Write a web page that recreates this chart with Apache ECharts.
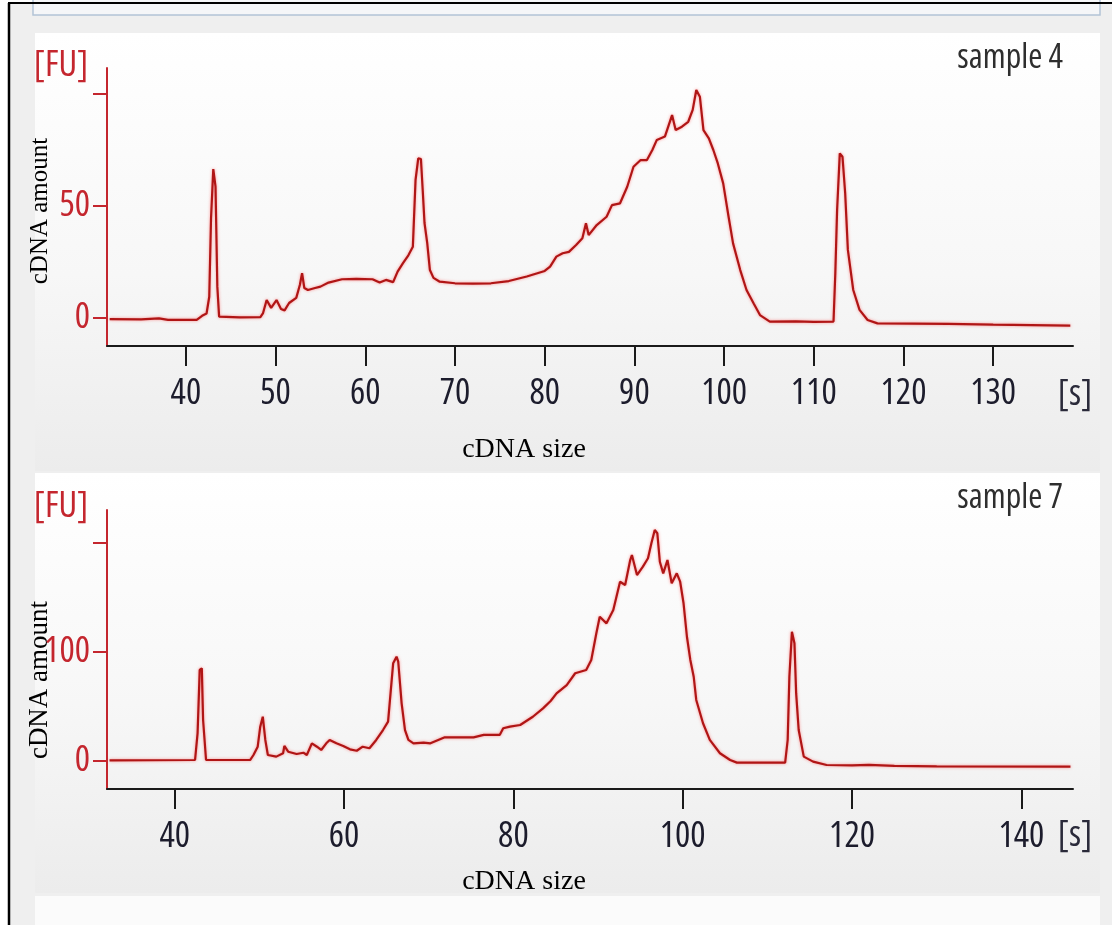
<!DOCTYPE html>
<html>
<head>
<meta charset="utf-8">
<script src="https://cdn.jsdelivr.net/npm/echarts@6/dist/echarts.min.js"></script>
<style>
html,body{margin:0;padding:0;background:#fff;}
#chart{width:1112px;height:925px;}
</style>
</head>
<body>
<div id="chart"></div>
<script>
// ---- data (migration time [s] vs fluorescence [FU]) ----
const sample4Time = [31.5,35,37,38,41.2,41.8,42.3,42.6,42.8,43.05,43.3,43.5,43.7,46,48.3,48.6,49.0,49.5,50.1,50.6,51.0,51.5,52.3,52.7,52.95,53.2,53.6,54.4,55.0,55.9,57.4,59,60.8,61.6,62.3,63.1,63.6,64.2,64.8,65.3,65.6,65.9,66.2,66.4,66.6,66.9,67.2,67.6,68.3,70,72,74,76,78,80,80.6,81.3,82.0,82.7,83.5,84.2,84.6,84.9,85.8,86.9,87.5,88.4,89.2,89.9,90.7,91.4,92.0,92.5,93.4,94.2,94.6,95.3,96.0,96.5,96.9,97.3,97.7,98.3,98.8,99.3,99.9,100.5,101.0,101.8,102.5,103.3,104.0,105.1,108,110,112.2,112.4,112.6,112.9,113.2,113.5,113.8,114.4,115.1,116,117.1,125,130,138.6];
const sample4FU   = [-0.5,-0.6,-0.2,-0.8,-0.8,1.0,2.0,9.5,44.6,66.5,58.6,14,0.6,0.3,0.4,2.2,8,4.5,8,4,3.4,6.7,9,14.7,20,13.4,12.5,13.4,14,15.8,17.3,17.5,17.3,15.8,17,16,20.7,24.5,28,31.8,61.6,71.3,71,57,42.4,33.5,21.4,17.9,16.2,15.5,15.3,15.5,16.5,18.5,21,22.9,27.4,28.9,29.5,32.6,35.6,42.3,37,41.5,45.2,50.4,51.2,58.6,67.5,70.5,70.5,75,79.5,81,90.6,83.9,85.4,87.6,92.9,101.8,98.8,83.9,80.2,75,69,60.1,45.2,33.3,21.4,12.5,6.5,1.3,-1.6,-1.5,-1.7,-1.6,20,48.2,73.5,72,55.7,30.4,12.5,3.6,-0.9,-2.4,-2.6,-3.0,-3.4];

const sample7Time = [32.3,42.4,42.7,42.95,43.2,43.35,43.7,48.9,49.3,49.8,50.1,50.4,50.7,51.0,52.0,52.8,52.95,53.4,54.4,55.2,55.6,56.2,56.8,57.3,57.9,58.3,59.1,59.9,60.7,61.5,62.2,63.0,63.8,64.6,65.2,65.8,66.2,66.4,66.8,67.2,67.6,68.2,69.4,70.2,71.9,75.3,76.5,78.4,78.8,79.6,80.8,82.3,83.5,84.4,85.1,86.3,87.3,88.6,89.2,89.8,90.2,91.0,91.8,92.6,93.2,93.8,94.0,94.6,95.3,95.9,96.3,96.7,97.0,97.3,97.7,98.2,98.7,99.3,99.7,100.1,100.5,100.9,101.3,101.6,102.4,103.2,104.4,105.6,106.4,112.1,112.4,112.6,112.9,113.2,113.4,113.7,114.3,115.4,117.0,120,122,125,130,145.8];
const sample7FU   = [0.5,0.9,25.6,83.5,85,37.6,0.9,0.9,5.5,13.1,31.5,40.6,19.3,5.5,4,7.1,13.8,8.5,6.4,7.6,5.5,16.2,13.1,10.1,16.2,19.3,16.2,13.8,10.7,9.4,13.1,11.7,19.3,28.4,36.1,89.6,95.7,91.1,52.9,28.4,19.3,16.2,16.8,16.2,21.7,21.7,24,24,30,31.5,33,40.6,48.3,55,62,69.7,80.5,83.5,92.7,117.2,132.4,126.3,138.5,164.5,161.5,184.4,189,170.6,178.3,186,199.7,211.9,209,182.8,172.2,184.4,163,172.2,164.5,144.7,114,92.7,77.3,56,34.6,19.3,7.1,0.9,-1.5,-1.5,19.3,77.3,118.5,108,62,28.4,4,-0.6,-3.7,-4.0,-3.5,-4.5,-5,-5.2];

const top_xTicks = [40,50,60,70,80,90,100,110,120,130];
const top_yLabels = [0,50];
const top_yTicks = [0,50,100];
const bot_xTicks = [40,60,80,100,120,140];
const bot_yLabels = [0,100];
const bot_yTicks = [0,100,200];

const sampleNames = ['sample 4','sample 7'];
const yTitle = 'cDNA amount';
const xTitle = 'cDNA size';

// ---- pick a condensed sans face if one is installed ----
function pickNarrow(){
  const c = document.createElement('canvas').getContext('2d');
  const fams = ["'Open Sans'","'Noto Sans'","'DejaVu Sans'","Roboto","'Liberation Sans'","Lato","Inter"];
  const stretches = ['condensed','semi-condensed'];
  for (const f of fams){
    c.font = 'normal normal 100px ' + f;
    const w0 = c.measureText('0123456789 sample[FU]').width;
    for (const s of stretches){
      c.font = 'normal normal 100px ' + f;
      c.font = s + ' normal 100px ' + f;
      const w = c.measureText('0123456789 sample[FU]').width;
      if (w / w0 < 0.9) return {family: f + ',sans-serif', stretch: s};
    }
  }
  return null;
}
const narrow = pickNarrow();
const NARROW = narrow ? narrow.family : "'Liberation Sans',sans-serif";
const STRETCH = narrow ? narrow.stretch : 'normal';
const TICK_FS = narrow ? 36 : 29;
const NAME_FS = narrow ? 34 : 27;
const SERIF = "'Liberation Serif','DejaVu Serif',serif";
const RED = '#c4262e';
const LINE = '#b01515';

function pairs(xs, ys){ return xs.map((x,i)=>[x, ys[i]]); }

function xAxisCfg(gridIndex, min, max, ticks){
  return {
    type:'value', gridIndex, min, max,
    splitLine:{show:false},
    axisLine:{onZero:false, lineStyle:{color:'#1a1a1a', width:2}},
    axisTick:{customValues:ticks, length:20, lineStyle:{color:'#1a1a1a', width:2}},
    axisLabel:{customValues:ticks, margin:30, fontFamily:NARROW, fontStyle:STRETCH, fontSize:TICK_FS, color:'#1c1c2c'}
  };
}
function yAxisCfg(gridIndex, min, max, labels, ticks){
  return {
    type:'value', gridIndex, min, max,
    splitLine:{show:false},
    axisLine:{onZero:false, lineStyle:{color:RED, width:2}},
    axisTick:{customValues:ticks, length:14, lineStyle:{color:RED, width:2}},
    axisLabel:{customValues:labels, margin:17, fontFamily:NARROW, fontStyle:STRETCH, fontSize:TICK_FS, color:RED}
  };
}
function lineSeries(idx, data){
  return {
    type:'line', xAxisIndex:idx, yAxisIndex:idx, data,
    showSymbol:false, symbol:'none', animation:false,
    lineStyle:{color:LINE, width:2.2, shadowBlur:3, shadowColor:'rgba(255,40,40,0.5)'}
  };
}
function panelFill(){
  return {type:'linear', x:0, y:0, x2:0, y2:1, colorStops:[
    {offset:0, color:'#ffffff'},{offset:0.55, color:'#f7f7f7'},{offset:1, color:'#ececec'}]};
}
function label(x, y, text, fs, fill, align, family, stretch){
  return {type:'text', silent:true, x, y, style:{text, fontFamily:family||NARROW, fontStyle:stretch||STRETCH, fontSize:fs, fill, align:align||'center', verticalAlign:'middle'}};
}

const chart = echarts.init(document.getElementById('chart'), null, {renderer:'canvas'});
chart.setOption({
  animation:false,
  backgroundColor:'#ffffff',
  grid:[
    {left:107, top:68, width:966, height:278, containLabel:false, outerBoundsMode:'none'},
    {left:107, top:510, width:966, height:279, containLabel:false, outerBoundsMode:'none'}
  ],
  xAxis:[
    xAxisCfg(0, 31.2, 138.9, top_xTicks),
    xAxisCfg(1, 32.0, 146.1, bot_xTicks)
  ],
  yAxis:[
    yAxisCfg(0, -12.5, 111.6, top_yLabels, top_yTicks),
    yAxisCfg(1, -25.7, 230.3, bot_yLabels, bot_yTicks)
  ],
  series:[
    lineSeries(0, pairs(sample4Time, sample4FU)),
    lineSeries(1, pairs(sample7Time, sample7FU))
  ],
  graphic:[
    {type:'rect', z:-20, silent:true, shape:{x:9, y:4, width:1103, height:921}, style:{fill:'#efefef'}},
    {type:'rect', z:-19, silent:true, shape:{x:33, y:-6, width:1067, height:21}, style:{fill:'#f5f6f8', stroke:'#b3c4d6', lineWidth:1.5}},
    {type:'rect', z:-19, silent:true, shape:{x:35, y:33, width:1065, height:438}, style:{fill:panelFill()}},
    {type:'rect', z:-19, silent:true, shape:{x:35, y:473, width:1065, height:420}, style:{fill:panelFill()}},
    {type:'rect', z:-19, silent:true, shape:{x:35, y:896, width:1065, height:40}, style:{fill:'#fbfbfb'}},
    {type:'line', z:-18, silent:true, shape:{x1:8, y1:3, x2:1112, y2:3}, style:{stroke:'#000', lineWidth:2}},
    {type:'line', z:-18, silent:true, shape:{x1:9, y1:3, x2:9, y2:925}, style:{stroke:'#000', lineWidth:2.5}},

    label(61, 66, '[FU]', TICK_FS, RED),
    label(61, 507, '[FU]', TICK_FS, RED),
    label(1063, 58, sampleNames[0], NAME_FS, '#2e2e2e', 'right'),
    label(1063, 498, sampleNames[1], NAME_FS, '#2e2e2e', 'right'),
    label(1075, 395, '[s]', TICK_FS, '#2a2a3a'),
    label(1075, 836, '[s]', TICK_FS, '#2a2a3a'),
    label(524, 450, xTitle, 28, '#000', 'center', SERIF, 'normal'),
    label(524, 882, xTitle, 28, '#000', 'center', SERIF, 'normal'),
    Object.assign(label(40, 211, yTitle, 25, '#000', 'center', SERIF, 'normal'), {rotation:Math.PI/2}),
    Object.assign(label(40, 680, yTitle, 27, '#000', 'center', SERIF, 'normal'), {rotation:Math.PI/2})
  ]
});
</script>
</body>
</html>
